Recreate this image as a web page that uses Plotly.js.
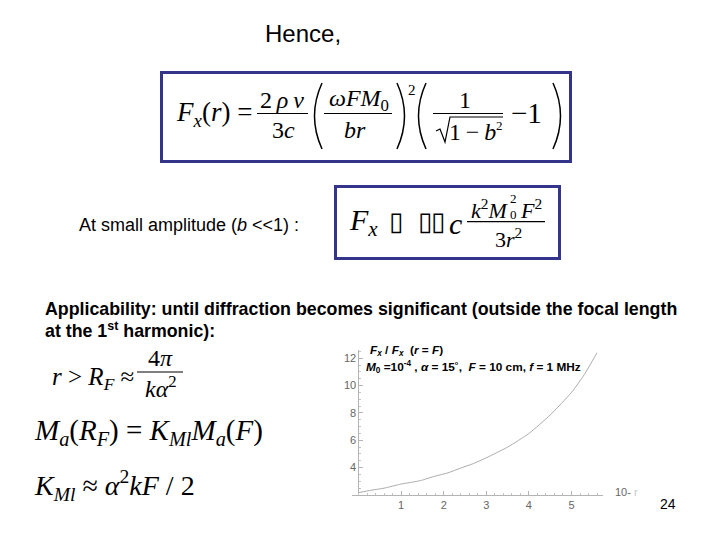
<!DOCTYPE html>
<html>
<head>
<meta charset="utf-8">
<script src="https://cdn.plot.ly/plotly-3.0.1.min.js"></script>
<style>
  body { margin: 0; background: #fff; }
  #slide { width: 720px; height: 540px; }
</style>
</head>
<body>
<div id="slide"></div>
<script>
// curve: Fx / Fx(r = F) against r
var rValues = [0, 0.3, 0.6, 1.0, 1.45, 1.8, 2.1, 2.4, 2.7, 3.0, 3.5, 4.0, 4.5, 5.0, 5.3, 5.6];
var forceRatio = [2.17, 2.35, 2.5, 2.8, 3.05, 3.38, 3.62, 3.97, 4.3, 4.72, 5.5, 6.5, 7.85, 9.5, 10.8, 12.4];
var xTicks = [1, 2, 3, 4, 5];
var yTicks = [4, 6, 8, 10, 12];

var W = 720, H = 540;
function px(v) { return v / W; }
function py(v) { return 1 - v / H; }

var SERIF = 'Liberation Serif, Times New Roman, serif';
var SANS = 'Liberation Sans, Arial, sans-serif';
var NAVY = '#34348a';

function note(x, y, text, size, family, xanchor, color) {
  return {
    x: px(x), y: py(y), xref: 'paper', yref: 'paper',
    text: text, showarrow: false,
    xanchor: xanchor || 'left', yanchor: 'middle',
    font: {family: family || SERIF, size: size, color: color || '#000'}
  };
}

function hline(x0, x1, y, w) {
  return {type: 'line', xref: 'paper', yref: 'paper',
    x0: px(x0), x1: px(x1), y0: py(y), y1: py(y),
    line: {color: '#000', width: w || 1.2}};
}

function box(x0, y0, x1, y1) {
  return {type: 'rect', xref: 'paper', yref: 'paper',
    x0: px(x0), x1: px(x1), y0: py(y0), y1: py(y1),
    line: {color: NAVY, width: 3}};
}

// thin curved bracket, drawn as a quadratic curve
function paren(x, top, bottom, bulge) {
  var mid = (top + bottom) / 2;
  return {type: 'path', xref: 'paper', yref: 'paper',
    path: 'M ' + px(x) + ',' + py(top) + ' Q ' + px(x + bulge) + ',' + py(mid) +
          ' ' + px(x) + ',' + py(bottom),
    line: {color: '#000', width: 1.5}};
}

function polyline(pts) {
  var d = pts.map(function (p, i) {
    return (i ? 'L ' : 'M ') + px(p[0]) + ',' + py(p[1]);
  }).join(' ');
  return {type: 'path', xref: 'paper', yref: 'paper', path: d,
    line: {color: '#000', width: 1.2}};
}

var TS = '\u2009';

var annotations = [
  note(263, 33, 'Hence,', 24, SANS),

  // first boxed formula
  note(174, 114, '<i>F</i><sub><i>x</i></sub>(<i>r</i>) =', 27),
  note(282, 100, '2' + TS + '<i>ρ' + TS + 'ν</i>', 24, SERIF, 'center'),
  note(283, 130, '3<i>c</i>', 24, SERIF, 'center'),
  note(359, 100, '<i>ωFM</i><sub>0</sub>', 24, SERIF, 'center'),
  note(355, 130, '<i>br</i>', 24, SERIF, 'center'),
  note(412, 90, '2', 15, SERIF, 'center'),
  note(465, 100, '1', 24, SERIF, 'center'),
  note(447, 132, '1' + TS + '−' + TS + '<i>b</i>', 24),
  note(499, 125, '2', 13, SERIF, 'center'),
  note(509, 113, '−1', 29),

  note(77, 225, 'At small amplitude (<i>b</i> &lt;&lt;1) :', 18, SANS),

  // second boxed formula (symbols shown as missing glyphs, as on the slide)
  note(347, 222, '<i>F</i><sub><i>x</i></sub>', 30),
  note(396, 221, '▯', 26, 'DejaVu Sans', 'center'),
  note(425, 221, '▯', 26, 'DejaVu Sans Oblique, DejaVu Sans', 'center'),
  note(438, 221, '▯', 26, 'DejaVu Sans Oblique, DejaVu Sans', 'center'),
  note(455, 224, '<i>c</i>', 30, SERIF, 'center'),
  note(469, 209, '<i>k</i><sup>2</sup><i>M</i>', 22),
  note(513, 214, '0', 13, SERIF, 'center'),
  note(513, 199, '2', 13, SERIF, 'center'),
  note(518, 209, '<i>F</i><sup>2</sup>', 22),
  note(508, 238, '3<i>r</i><sup>2</sup>', 22, SERIF, 'center'),

  note(43, 309, '<b>Applicability: until diffraction becomes significant (outside the focal length</b>', 17.8, SANS),
  note(43, 330, '<b>at the 1<sup>st</sup> harmonic):</b>', 17.8, SANS),

  // left column relations
  note(50, 378, '<i>r</i> &gt; <i>R</i><sub><i>F</i></sub> ≈', 25),
  note(160, 358, '4<i>π</i>', 24, SERIF, 'center'),
  note(161, 387, '<i>kα</i><sup>2</sup>', 24, SERIF, 'center'),
  note(32, 432, '<i>M</i><sub><i>a</i></sub>(<i>R</i><sub><i>F</i></sub>) = <i>K</i><sub><i>Ml</i></sub><i>M</i><sub><i>a</i></sub>(<i>F</i>)', 29),
  note(32, 485, '<i>K</i><sub><i>Ml</i></sub> ≈ <i>α</i><sup>2</sup><i>kF</i> / 2', 28),

  // plot labels
  note(368, 350, '<b><i>F</i><sub><i>x</i></sub> / <i>F</i><sub><i>x</i></sub>  (<i>r</i> = <i>F</i>)</b>', 11.8, SANS),
  note(364, 367, '<b><i>M</i><sub>0</sub> =10<sup>-4</sup> , <i>α</i> = 15˚,  <i>F</i> = 10 cm, <i>f</i> = 1 MHz</b>', 11.8, SANS),
  note(613, 492, '10- <span style="color:#c8c8c8">r</span>', 11, SANS, 'left', '#666'),

  note(668, 504, '24', 14, SANS, 'center')
];

var shapes = [
  box(161.5, 72.5, 570.5, 161.5),
  box(335.5, 186.5, 559.5, 258.5),
  hline(257, 308, 113.5),
  hline(324, 392, 113.5),
  hline(433, 503, 113.5),
  paren(322, 83, 149, -15),
  paren(397, 83, 149, 15),
  paren(426, 83, 149, -15),
  paren(553, 83, 149, 15),
  polyline([[436, 131], [440, 129], [445, 142], [450, 117], [503, 117]]),
  hline(467, 545, 221.7),
  hline(137, 183, 372)
];

var trace = {
  x: rValues,
  y: forceRatio,
  type: 'scatter',
  mode: 'lines',
  line: {color: '#acacac', width: 1, shape: 'spline', smoothing: 0.6},
  hoverinfo: 'skip'
};

var layout = {
  width: W,
  height: H,
  margin: {l: 0, r: 0, t: 0, b: 0},
  paper_bgcolor: '#fff',
  plot_bgcolor: 'rgba(0,0,0,0)',
  showlegend: false,
  xaxis: {
    domain: [px(351.7), px(603)],
    range: [-0.16, 5.74],
    showgrid: false, zeroline: false,
    showline: true, linecolor: '#b4b4b4', linewidth: 1,
    tickvals: xTicks,
    ticks: 'inside', ticklen: 4, tickcolor: '#b4b4b4',
    minor: {ticks: 'inside', dtick: 0.2, tick0: 0, ticklen: 2, tickcolor: '#c4c4c4'},
    tickfont: {family: SANS, size: 11, color: '#666'}
  },
  yaxis: {
    domain: [45 / H, 190 / H],
    range: [2.0, 12.6],
    anchor: 'free',
    position: px(358.4),
    showgrid: false, zeroline: false,
    showline: true, linecolor: '#b4b4b4', linewidth: 1,
    tickvals: yTicks,
    ticks: 'inside', ticklen: 4, tickcolor: '#b4b4b4',
    minor: {ticks: 'inside', dtick: 0.5, tick0: 0, ticklen: 2, tickcolor: '#c4c4c4'},
    tickfont: {family: SANS, size: 11, color: '#666'}
  },
  annotations: annotations,
  shapes: shapes
};

Plotly.newPlot('slide', [trace], layout, {staticPlot: true, displayModeBar: false});
</script>
</body>
</html>
